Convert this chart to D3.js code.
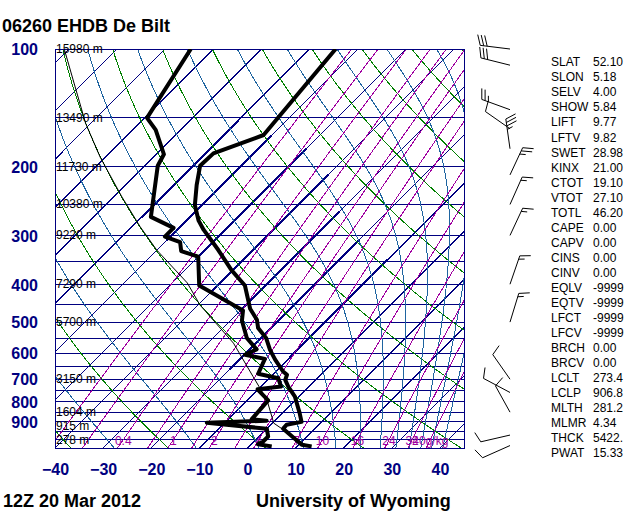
<!DOCTYPE html>
<html>
<head>
<meta charset="utf-8">
<script src="https://cdn.jsdelivr.net/npm/d3@7"></script>
<style>
body { margin: 0; background: #fff; }
svg { display: block; }
text { font-family: "Liberation Sans", Arial, Helvetica, sans-serif; }
</style>
</head>
<body>
<div id="chart"></div>
<script>
// ---- sounding values ----
var tempP = [100, 166, 185, 199, 223, 251, 275, 290, 327, 368, 403, 462, 493, 518, 549, 589, 624, 669, 682, 703, 731, 776, 855, 900, 916, 937, 994, 1030, 1040];
var tempT = [-64.6, -61.7, -68.3, -68.5, -65.2, -61.4, -57.4, -54.5, -47.2, -40.3, -34.3, -28.4, -24.7, -22.7, -19.0, -15.7, -12.6, -8.5, -7.0, -6.3, -4.3, -0.8, 3.6, 5.8, 3.3, 3.4, 7.9, 10.6, 13.0];

var dewP = [100, 150, 161, 186, 199, 269, 287, 302, 312, 329, 340, 403, 467, 496, 549, 587, 606, 621, 678, 696, 731, 743, 793, 886, 894, 905, 937, 981, 1012, 1027, 1040];
var dewT = [-94.7, -89.5, -85.2, -78.4, -77.3, -68.1, -61.1, -61.1, -56.8, -54.7, -50.0, -43.8, -29.5, -27.6, -23.0, -18.6, -19.9, -14.9, -13.2, -8.1, -5.8, -10.1, -5.6, -5.1, -1.7, -13.7, 0.0, 1.9, 1.9, 1.4, 4.7];

var parcelP = [100, 155, 189, 239, 285, 327, 397, 452, 566, 689, 790, 907, 981, 1040];
var parcelT = [-121.0, -101.1, -91.1, -78.3, -68.3, -60.0, -46.8, -39.6, -24.7, -13.7, -6.0, 0.3, 7.1, 12.2];

var windP   = [100, 110, 143, 160, 180, 210, 250, 300, 400, 500, 700, 757, 850, 973, 1035];
var windDir = [277, 284, 290, 305, 352, 25, 24, 25, 19, 17, 325, 298, 331, 257, 246];
var windSpd = [30, 30, 25, 10, 35, 25, 15, 15, 15, 15, 10, 10, 10, 10, 10];

var pLabels = [100, 200, 300, 400, 500, 600, 700, 800, 900];
var tLabels = [-40, -30, -20, -10, 0, 10, 20, 30, 40];
var hgtP = [100, 150, 200, 250, 300, 400, 500, 700, 850, 925, 1000];
var hgtM = ["15980 m", "13490 m", "11730 m", "10380 m", "9220 m", "7290 m", "5700 m", "3150 m", "1604 m", "915 m", "278 m"];

var isobars = d3.range(100, 1051, 50);
var isotherms = d3.range(-130, 41, 10);
var thickIso = [-70, -60, -50, -40, -30, -20, -10, 0];
var thickTop = [152, 166, 180, 210, 260, 308, 347, 485];
var thickBot = [270, 308, 345, 420, 470, 662, 617, 626];
var dryTheta = [233.15, 253.15, 273.15, 293.15, 313.15, 333.15, 353.15, 373.15, 393.15, 413.15, 433.15, 453.15, 473.15];
var moistTheta = [223.15, 243.15, 263.15, 283.15, 303.15, 323.15, 343.15, 363.15, 383.15, 403.15, 423.15, 443.15, 463.15];
var mixRatios = [0.1, 0.2, 0.4, 0.7, 1, 1.5, 2, 3, 4, 7, 10, 16, 24, 32, 40];
var mixLabels = [0.4, 1, 2, 4, 7, 10, 16, 24, 32, 40];

var indexNames  = ["SLAT", "SLON", "SELV", "SHOW", "LIFT", "LFTV", "SWET", "KINX", "CTOT", "VTOT", "TOTL", "CAPE", "CAPV", "CINS", "CINV", "EQLV", "EQTV", "LFCT", "LFCV", "BRCH", "BRCV", "LCLT", "LCLP", "MLTH", "MLMR", "THCK", "PWAT"];
var indexValues = ["52.10", "5.18", "4.00", "5.84", "9.77", "9.82", "28.98", "21.00", "19.10", "27.10", "46.20", "0.00", "0.00", "0.00", "0.00", "-9999", "-9999", "-9999", "-9999", "0.00", "0.00", "273.4", "906.8", "281.2", "4.34", "5422.", "15.33"];

// ---- layout ----
var plotL = 55, plotR = 464, plotT = 49, plotB = 448;
var navy = "#000080", green = "#008000", moistCol = "#1e64a0", purple = "#a000a0";

var yScale = d3.scaleLog().domain([100, 1050]).range([plotT, plotB]);
var xScale = d3.scaleLinear().domain([-40, 45]).range([plotL, plotR]);
var skewX = (t, p) => xScale(t) + (plotB - yScale(p));

var svg = d3.select("#chart").append("svg")
    .attr("width", 640)
    .attr("height", 512);

svg.append("clipPath").attr("id", "clip")
    .append("rect")
    .attr("x", plotL).attr("y", plotT)
    .attr("width", plotR - plotL).attr("height", plotB - plotT);

var line = d3.line().x(d => skewX(d.t, d.p)).y(d => yScale(d.p));
var pSteps = d3.range(100, 1051, 5);

var grid = svg.append("g")
    .attr("clip-path", "url(#clip)")
    .attr("fill", "none")
    .attr("shape-rendering", "crispEdges");

// isobars
grid.selectAll(".isobar").data(isobars).enter()
    .append("line")
    .attr("x1", plotL).attr("x2", plotR)
    .attr("y1", d => yScale(d)).attr("y2", d => yScale(d))
    .attr("stroke", navy);

// isotherms
grid.selectAll(".isotherm").data(isotherms).enter()
    .append("line")
    .attr("x1", d => skewX(d, 1050)).attr("y1", yScale(1050))
    .attr("x2", d => skewX(d, 100)).attr("y2", yScale(100))
    .attr("stroke", navy);

grid.selectAll(".isothick").data(thickIso).enter()
    .append("line")
    .attr("x1", (d, i) => skewX(d, thickBot[i])).attr("y1", (d, i) => yScale(thickBot[i]))
    .attr("x2", (d, i) => skewX(d, thickTop[i])).attr("y2", (d, i) => yScale(thickTop[i]))
    .attr("stroke", navy)
    .attr("stroke-width", 2);

// dry adiabats
grid.selectAll(".dry").data(dryTheta).enter()
    .append("path")
    .attr("d", th => line(pSteps.map(p => ({p: p, t: th * Math.pow(p / 1000, 0.2857) - 273.15}))))
    .attr("stroke", green);

// moist adiabats, integrated down from 100 hPa
function es(tc) { return 6.112 * Math.exp(17.67 * tc / (tc + 243.5)); }
function lapse(p, tk) {
    var e = es(tk - 273.15), rs = 0.622 * e / (p - e);
    return (287.04 * tk + 2.501e6 * rs) / (p * (1005.7 + 2.501e6 * 2.501e6 * rs * 0.622 / (287.04 * tk * tk)));
}
function moistPath(th) {
    var tk = th * Math.pow(0.1, 0.2857), pts = [{p: 100, t: tk - 273.15}];
    for (var p = 100; p < 1050; p += 5) {
        var k1 = lapse(p, tk);
        var k2 = lapse(p + 2.5, tk + 2.5 * k1);
        tk += 5 * k2;
        pts.push({p: p + 5, t: tk - 273.15});
    }
    return pts;
}
grid.selectAll(".moist").data(moistTheta).enter()
    .append("path")
    .attr("d", th => line(moistPath(th)))
    .attr("stroke", moistCol);

// mixing ratio lines
function tdew(w, p) {
    var a = Math.log(w * p / (622 + w) / 6.112);
    return 243.5 * a / (17.67 - a);
}
grid.selectAll(".mix").data(mixRatios).enter()
    .append("path")
    .attr("d", w => line(pSteps.map(p => ({p: p, t: tdew(w, p)}))))
    .attr("stroke", purple);

// frame
svg.append("rect")
    .attr("x", plotL).attr("y", plotT)
    .attr("width", plotR - plotL).attr("height", plotB - plotT)
    .attr("fill", "none").attr("stroke", navy)
    .attr("shape-rendering", "crispEdges");

// mixing ratio labels
svg.selectAll(".mixlab").data(mixLabels).enter()
    .append("text")
    .attr("x", w => skewX(tdew(w, 1000), 1000))
    .attr("y", yScale(1000) + 1)
    .attr("text-anchor", "middle")
    .attr("dominant-baseline", "central")
    .style("font-size", "12px")
    .style("fill", purple)
    .text(w => w === 40 ? "40g/kg" : w);

// height labels
svg.selectAll(".hgt").data(hgtP).enter()
    .append("text")
    .attr("x", plotL + 1)
    .attr("y", d => yScale(d))
    .attr("dominant-baseline", "central")
    .style("font-size", "12px")
    .style("fill", "#000")
    .text((d, i) => hgtM[i]);

// sounding lines
var prof = svg.append("g").attr("clip-path", "url(#clip)").attr("fill", "none");
prof.append("path")
    .attr("d", line(parcelP.map((p, i) => ({p: p, t: parcelT[i]}))))
    .attr("stroke", "#000").attr("stroke-width", 1);
prof.append("path")
    .attr("d", line(dewP.map((p, i) => ({p: p, t: dewT[i]}))))
    .attr("stroke", "#000").attr("stroke-width", 4)
    .attr("stroke-linejoin", "round");
prof.append("path")
    .attr("d", line(tempP.map((p, i) => ({p: p, t: tempT[i]}))))
    .attr("stroke", "#000").attr("stroke-width", 4)
    .attr("stroke-linejoin", "round");

// axes
var yAxis = d3.axisLeft(yScale).tickValues(pLabels).tickSize(0).tickPadding(0).tickFormat(d3.format("d"));
svg.append("g")
    .attr("transform", "translate(38,0)")
    .call(yAxis)
    .call(g => g.select(".domain").remove())
    .selectAll("text")
        .attr("dy", "0.36em")
        .style("font-size", "16px")
        .style("font-weight", "bold")
        .style("font-family", "'Liberation Sans', Arial, sans-serif")
        .style("fill", navy);

var xAxis = d3.axisBottom(xScale).tickValues(tLabels).tickSize(0).tickPadding(16);
svg.append("g")
    .attr("transform", `translate(0, ${plotB})`)
    .call(xAxis)
    .call(g => g.select(".domain").remove())
    .selectAll("text")
        .style("font-size", "16px")
        .style("font-weight", "bold")
        .style("font-family", "'Liberation Sans', Arial, sans-serif")
        .style("fill", navy);

// wind barbs
var barbs = svg.append("g").attr("stroke", "#000").attr("fill", "#000").attr("stroke-width", 1);
windP.forEach((p, i) => {
    var bx = 510, by = yScale(p), L = 30;
    var r = windDir[i] * Math.PI / 180, ux = Math.sin(r), uy = -Math.cos(r);
    var tx = bx + ux * L, ty = by + uy * L;
    barbs.append("line").attr("x1", bx).attr("y1", by).attr("x2", tx).attr("y2", ty);
    var f = (windDir[i] + 70) * Math.PI / 180, fx = Math.sin(f), fy = -Math.cos(f);
    var s = windSpd[i], pos = 0;
    while (s >= 50) {
        var ax = tx - ux * pos, ay = ty - uy * pos;
        var bx2 = tx - ux * (pos + 5), by2 = ty - uy * (pos + 5);
        barbs.append("path").attr("d", `M${ax},${ay}L${ax + fx * 11},${ay + fy * 11}L${bx2},${by2}Z`);
        s -= 50; pos += 6;
    }
    while (s >= 10) {
        var px = tx - ux * pos, py = ty - uy * pos;
        barbs.append("line").attr("x1", px).attr("y1", py).attr("x2", px + fx * 11).attr("y2", py + fy * 11);
        s -= 10; pos += 3.5;
    }
    if (s >= 5) {
        if (pos === 0) pos = 3.5;
        var hx = tx - ux * pos, hy = ty - uy * pos;
        barbs.append("line").attr("x1", hx).attr("y1", hy).attr("x2", hx + fx * 6).attr("y2", hy + fy * 6);
    }
});

// stability indices
svg.selectAll(".idxname").data(indexNames).enter()
    .append("text")
    .attr("x", 551)
    .attr("y", (d, i) => 62.3 + i * 15.04)
    .attr("dominant-baseline", "central")
    .style("font-size", "12px")
    .text(d => d);
svg.selectAll(".idxval").data(indexValues).enter()
    .append("text")
    .attr("x", 593)
    .attr("y", (d, i) => 62.3 + i * 15.04)
    .attr("dominant-baseline", "central")
    .style("font-size", "12px")
    .text(d => d);

// titles
svg.append("text").attr("x", 2).attr("y", 32)
    .style("font-size", "18px").style("font-weight", "bold")
    .text("06260 EHDB De Bilt");
svg.append("text").attr("x", 3).attr("y", 507)
    .style("font-size", "18px").style("font-weight", "bold")
    .text("12Z 20 Mar 2012");
svg.append("text").attr("x", 256).attr("y", 507)
    .style("font-size", "18px").style("font-weight", "bold")
    .text("University of Wyoming");
</script>
</body>
</html>
